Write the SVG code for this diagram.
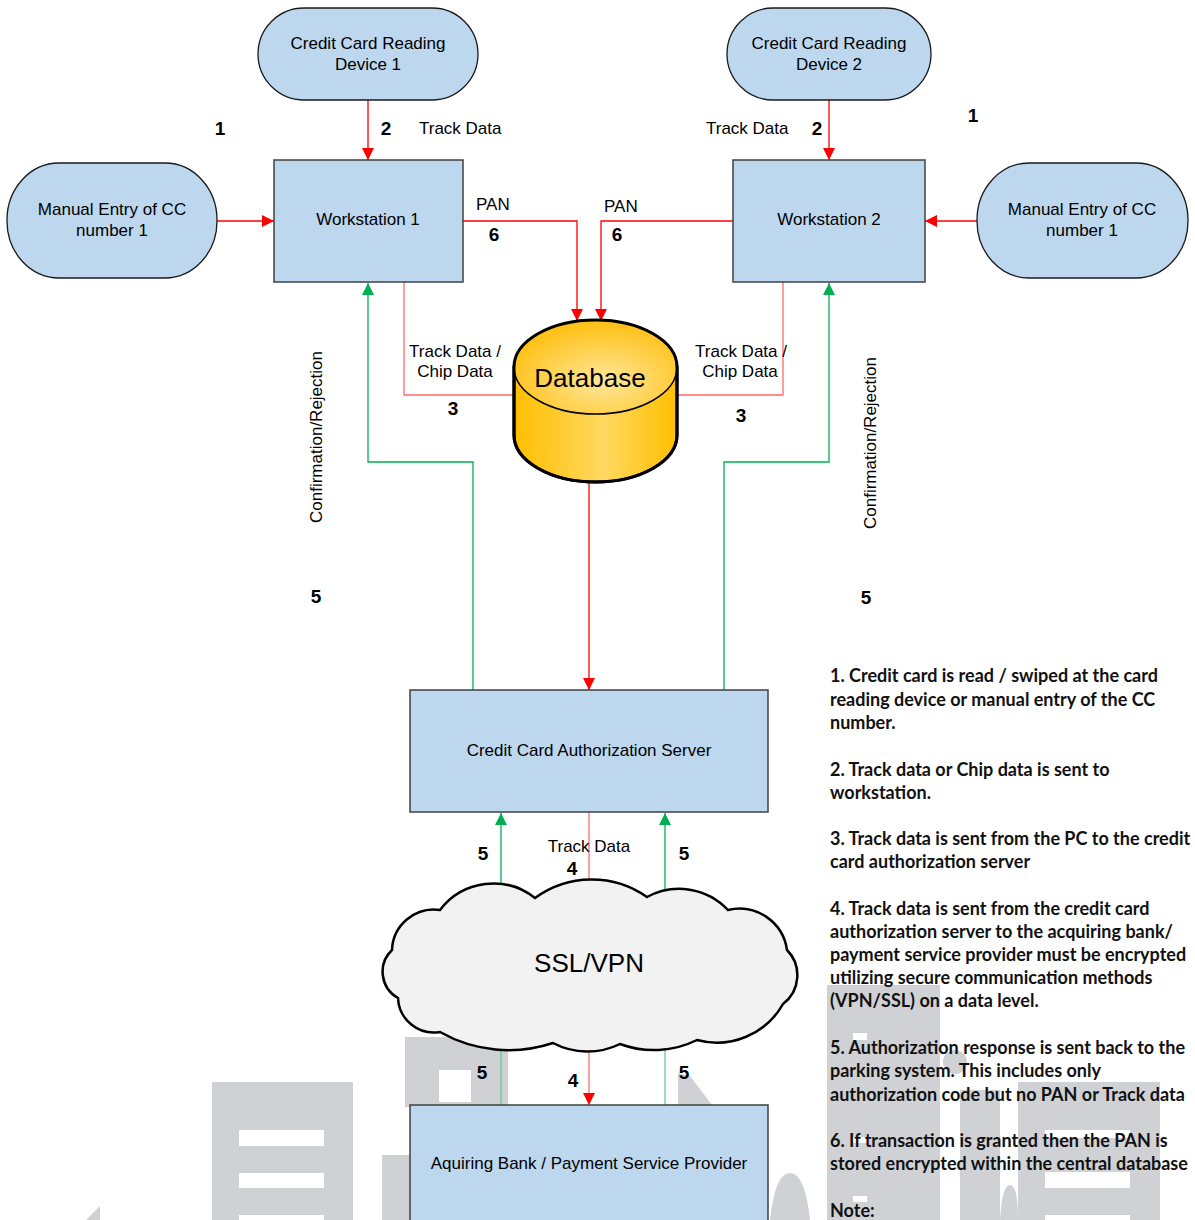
<svg xmlns="http://www.w3.org/2000/svg" width="1195" height="1220" viewBox="0 0 1195 1220">
<defs>
<style>
.node{fill:#BDD7EE;stroke:#404040;stroke-width:1.5}
.term{fill:#BDD7EE;stroke:#1a1a1a;stroke-width:1.3}
.lbl{font-family:"Liberation Sans",Arial,sans-serif;font-size:17px;fill:#000}
.mid{text-anchor:middle}
.num{font-family:"Liberation Sans",Arial,sans-serif;font-size:19px;font-weight:bold;fill:#000;text-anchor:middle}
.big{font-family:"Liberation Sans",Arial,sans-serif;font-size:26px;fill:#000;text-anchor:middle}
.red{fill:none;stroke:#FF0000;stroke-width:1.3}
.lred{fill:none;stroke:#FF6B6B;stroke-width:1.3}
.grn{fill:none;stroke:#00B050;stroke-width:1.3}
.lgrn{fill:none;stroke:#5CC98A;stroke-width:1.2}
.note{font-family:Lato,"Open Sans",sans-serif;font-size:18px;font-weight:bold;fill:#111}
.wm{fill:#D0D1D5}
.wmw{fill:#FFFFFF}
</style>
<marker id="ar" markerUnits="userSpaceOnUse" markerWidth="12" markerHeight="12" viewBox="0 0 12 12" refX="12" refY="6" orient="auto">
<path d="M0,0 L12,6 L0,12 z" fill="#FF0000"/>
</marker>
<marker id="ag" markerUnits="userSpaceOnUse" markerWidth="12" markerHeight="12" viewBox="0 0 12 12" refX="12" refY="6" orient="auto">
<path d="M0,0 L12,6 L0,12 z" fill="#00B050"/>
</marker>
<linearGradient id="gold" x1="0" y1="0" x2="1" y2="0">
<stop offset="0" stop-color="#FFBE00"/>
<stop offset="0.55" stop-color="#FFD860"/>
<stop offset="1" stop-color="#FFC000"/>
</linearGradient>
<radialGradient id="goldtop" cx="0.55" cy="0.65" r="0.6">
<stop offset="0" stop-color="#FFE79A"/>
<stop offset="1" stop-color="#FFC21A"/>
</radialGradient>
</defs>

<g id="watermark">
<polygon class="wm" points="86,1220 100,1206 100,1220"/>
<rect class="wm" x="212" y="1082" width="141" height="138"/>
<rect class="wmw" x="239" y="1130" width="85" height="16"/>
<rect class="wmw" x="239" y="1173" width="85" height="15"/>
<rect class="wmw" x="239" y="1215" width="85" height="5"/>
<rect class="wm" x="382" y="1155" width="30" height="65"/>
<rect class="wm" x="405" y="1037" width="103" height="70"/>
<rect class="wmw" x="439" y="1070" width="32" height="32"/>
<polygon class="wm" points="678,1073 690,1076 712,1105 678,1105"/>
<path class="wm" d="M770,1220 Q775,1173 790,1173 Q805,1173 810,1220 z"/>
<rect class="wm" x="827" y="985" width="113" height="235"/>
<rect class="wmw" x="853" y="1033" width="14" height="7"/>
<rect class="wmw" x="853" y="1137" width="14" height="6"/>
<rect class="wmw" x="853" y="1196" width="14" height="6"/>
<circle class="wm" cx="955" cy="1062" r="12"/>
<rect class="wm" x="960" y="1090" width="40" height="130"/>
<path class="wm" d="M1000,1220 Q1002,1185 1010,1185 Q1018,1185 1018,1220 z"/>
<rect class="wm" x="1018" y="1082" width="142" height="138"/>
<rect class="wmw" x="1045" y="1130" width="85" height="8"/>
<rect class="wmw" x="1045" y="1172" width="85" height="16"/>
<rect class="wmw" x="1045" y="1215" width="85" height="5"/>
</g>

<g id="connectors">
<line class="red" x1="368" y1="100" x2="368" y2="160" marker-end="url(#ar)"/>
<line class="red" x1="829" y1="100" x2="829" y2="160" marker-end="url(#ar)"/>
<line class="red" x1="217" y1="221" x2="274" y2="221" marker-end="url(#ar)"/>
<line class="red" x1="977" y1="221" x2="925" y2="221" marker-end="url(#ar)"/>
<polyline class="red" points="463,221 577,221 577,321" marker-end="url(#ar)"/>
<polyline class="red" points="733,221 601,221 601,321" marker-end="url(#ar)"/>
<polyline class="lred" points="404,282 404,395 514,395"/>
<polyline class="lred" points="783,282 783,395 677,395"/>
<line class="red" x1="589" y1="482" x2="589" y2="690" marker-end="url(#ar)"/>
<polyline class="grn" points="473,690 473,462 368,462 368,283" marker-end="url(#ag)"/>
<polyline class="grn" points="724,690 724,462 829,462 829,283" marker-end="url(#ag)"/>
<line class="lred" x1="589" y1="812" x2="589" y2="882"/>
<line class="grn" x1="501" y1="892" x2="501" y2="813" marker-end="url(#ag)"/>
<line class="grn" x1="665" y1="897" x2="665" y2="813" marker-end="url(#ag)"/>
<line class="lred" x1="589" y1="1048" x2="589" y2="1105" marker-end="url(#ar)"/>
<line class="lgrn" x1="501" y1="1105" x2="501" y2="1035"/>
<line class="lgrn" x1="665" y1="1105" x2="665" y2="1035"/>
</g>

<g id="device1">
<rect class="term" x="258" y="8" width="220" height="92" rx="46" ry="46"/>
<text class="lbl mid" x="368" y="49">Credit Card Reading</text>
<text class="lbl mid" x="368" y="70">Device 1</text>
</g>
<g id="device2">
<rect class="term" x="727" y="8" width="204" height="92" rx="46" ry="46"/>
<text class="lbl mid" x="829" y="49">Credit Card Reading</text>
<text class="lbl mid" x="829" y="70">Device 2</text>
</g>
<g id="manual1">
<rect class="term" x="7" y="163" width="210" height="115" rx="52" ry="57"/>
<text class="lbl mid" x="112" y="215">Manual Entry of CC</text>
<text class="lbl mid" x="112" y="236">number 1</text>
</g>
<g id="manual2">
<rect class="term" x="977" y="163" width="211" height="115" rx="52" ry="57"/>
<text class="lbl mid" x="1082" y="215">Manual Entry of CC</text>
<text class="lbl mid" x="1082" y="236">number 1</text>
</g>
<g id="workstation1">
<rect class="node" x="274" y="160" width="189" height="122"/>
<text class="lbl mid" x="368" y="225">Workstation 1</text>
</g>
<g id="workstation2">
<rect class="node" x="733" y="160" width="192" height="122"/>
<text class="lbl mid" x="829" y="225">Workstation 2</text>
</g>
<g id="database">
<path d="M514,367 L514,435 A81.5,47 0 0 0 677,435 L677,367 z" fill="url(#gold)" stroke="#000" stroke-width="3"/>
<ellipse cx="595.5" cy="367" rx="81.5" ry="47" fill="url(#goldtop)" stroke="#000" stroke-width="1.5"/>
<path d="M514,367 L514,435 A81.5,47 0 0 0 677,435 L677,367 A81.5,47 0 0 0 514,367" fill="none" stroke="#000" stroke-width="3"/>
<text class="big" x="590" y="387">Database</text>
</g>
<g id="authserver">
<rect class="node" x="410" y="690" width="358" height="122"/>
<text class="lbl mid" x="589" y="756">Credit Card Authorization Server</text>
</g>
<g id="cloud">
<path d="M392,950 A42,42 0 0 1 440,910 A67,67 0 0 1 535,898 A96,96 0 0 1 647,897 A67,67 0 0 1 728,910 A48,48 0 0 1 787,950 A36,36 0 0 1 783,1004 A76,76 0 0 1 697,1040 A97,97 0 0 1 620,1044 A74,74 0 0 1 553,1043 A140,140 0 0 1 440,1032 A36,36 0 0 1 398,998 A30,30 0 0 1 392,950 z" fill="#F2F2F2" stroke="#000" stroke-width="2.5"/>
<text class="big" x="589" y="972">SSL/VPN</text>
</g>
<g id="bank">
<rect class="node" x="410" y="1105" width="358" height="125"/>
<text class="lbl mid" x="589" y="1169">Aquiring Bank / Payment Service Provider</text>
</g>

<g id="labels">
<text class="num" x="220" y="135">1</text>
<text class="num" x="973" y="122">1</text>
<text class="num" x="386" y="135">2</text>
<text class="lbl" x="419" y="134">Track Data</text>
<text class="lbl" x="706" y="134">Track Data</text>
<text class="num" x="817" y="135">2</text>
<text class="lbl" x="476" y="210">PAN</text>
<text class="num" x="494" y="241">6</text>
<text class="lbl" x="604" y="212">PAN</text>
<text class="num" x="617" y="241">6</text>
<text class="lbl mid" x="455" y="357">Track Data /</text>
<text class="lbl mid" x="455" y="377">Chip Data</text>
<text class="num" x="453" y="415">3</text>
<text class="lbl mid" x="741" y="357">Track Data /</text>
<text class="lbl mid" x="740" y="377">Chip Data</text>
<text class="num" x="741" y="422">3</text>
<text class="lbl mid" transform="translate(322,437) rotate(-90)">Confirmation/Rejection</text>
<text class="lbl mid" transform="translate(876,443) rotate(-90)">Confirmation/Rejection</text>
<text class="num" x="316" y="603">5</text>
<text class="num" x="866" y="604">5</text>
<text class="num" x="483" y="860">5</text>
<text class="lbl mid" x="589" y="852">Track Data</text>
<text class="num" x="572" y="875">4</text>
<text class="num" x="684" y="860">5</text>
<text class="num" x="482" y="1079">5</text>
<text class="num" x="573" y="1087">4</text>
<text class="num" x="684" y="1079">5</text>
</g>

<g id="notes">
<text class="note" x="830" y="682">1. Credit card is read / swiped at the card</text>
<text class="note" x="830" y="706">reading device or manual entry of the CC</text>
<text class="note" x="830" y="729">number.</text>
<text class="note" x="830" y="776">2. Track data or Chip data is sent to</text>
<text class="note" x="830" y="799">workstation.</text>
<text class="note" x="830" y="845">3. Track data is sent from the PC to the credit</text>
<text class="note" x="830" y="868">card authorization server</text>
<text class="note" x="830" y="915">4. Track data is sent from the credit card</text>
<text class="note" x="830" y="938">authorization server to the acquiring bank/</text>
<text class="note" x="830" y="961">payment service provider must be encrypted</text>
<text class="note" x="830" y="984">utilizing secure communication methods</text>
<text class="note" x="830" y="1007">(VPN/SSL) on a data level.</text>
<text class="note" x="830" y="1054">5. Authorization response is sent back to the</text>
<text class="note" x="830" y="1077">parking system. This includes only</text>
<text class="note" x="830" y="1101">authorization code but no PAN or Track data</text>
<text class="note" x="830" y="1147">6. If transaction is granted then the PAN is</text>
<text class="note" x="830" y="1170">stored encrypted within the central database</text>
<text class="note" x="830" y="1217">Note:</text>
</g>
</svg>
